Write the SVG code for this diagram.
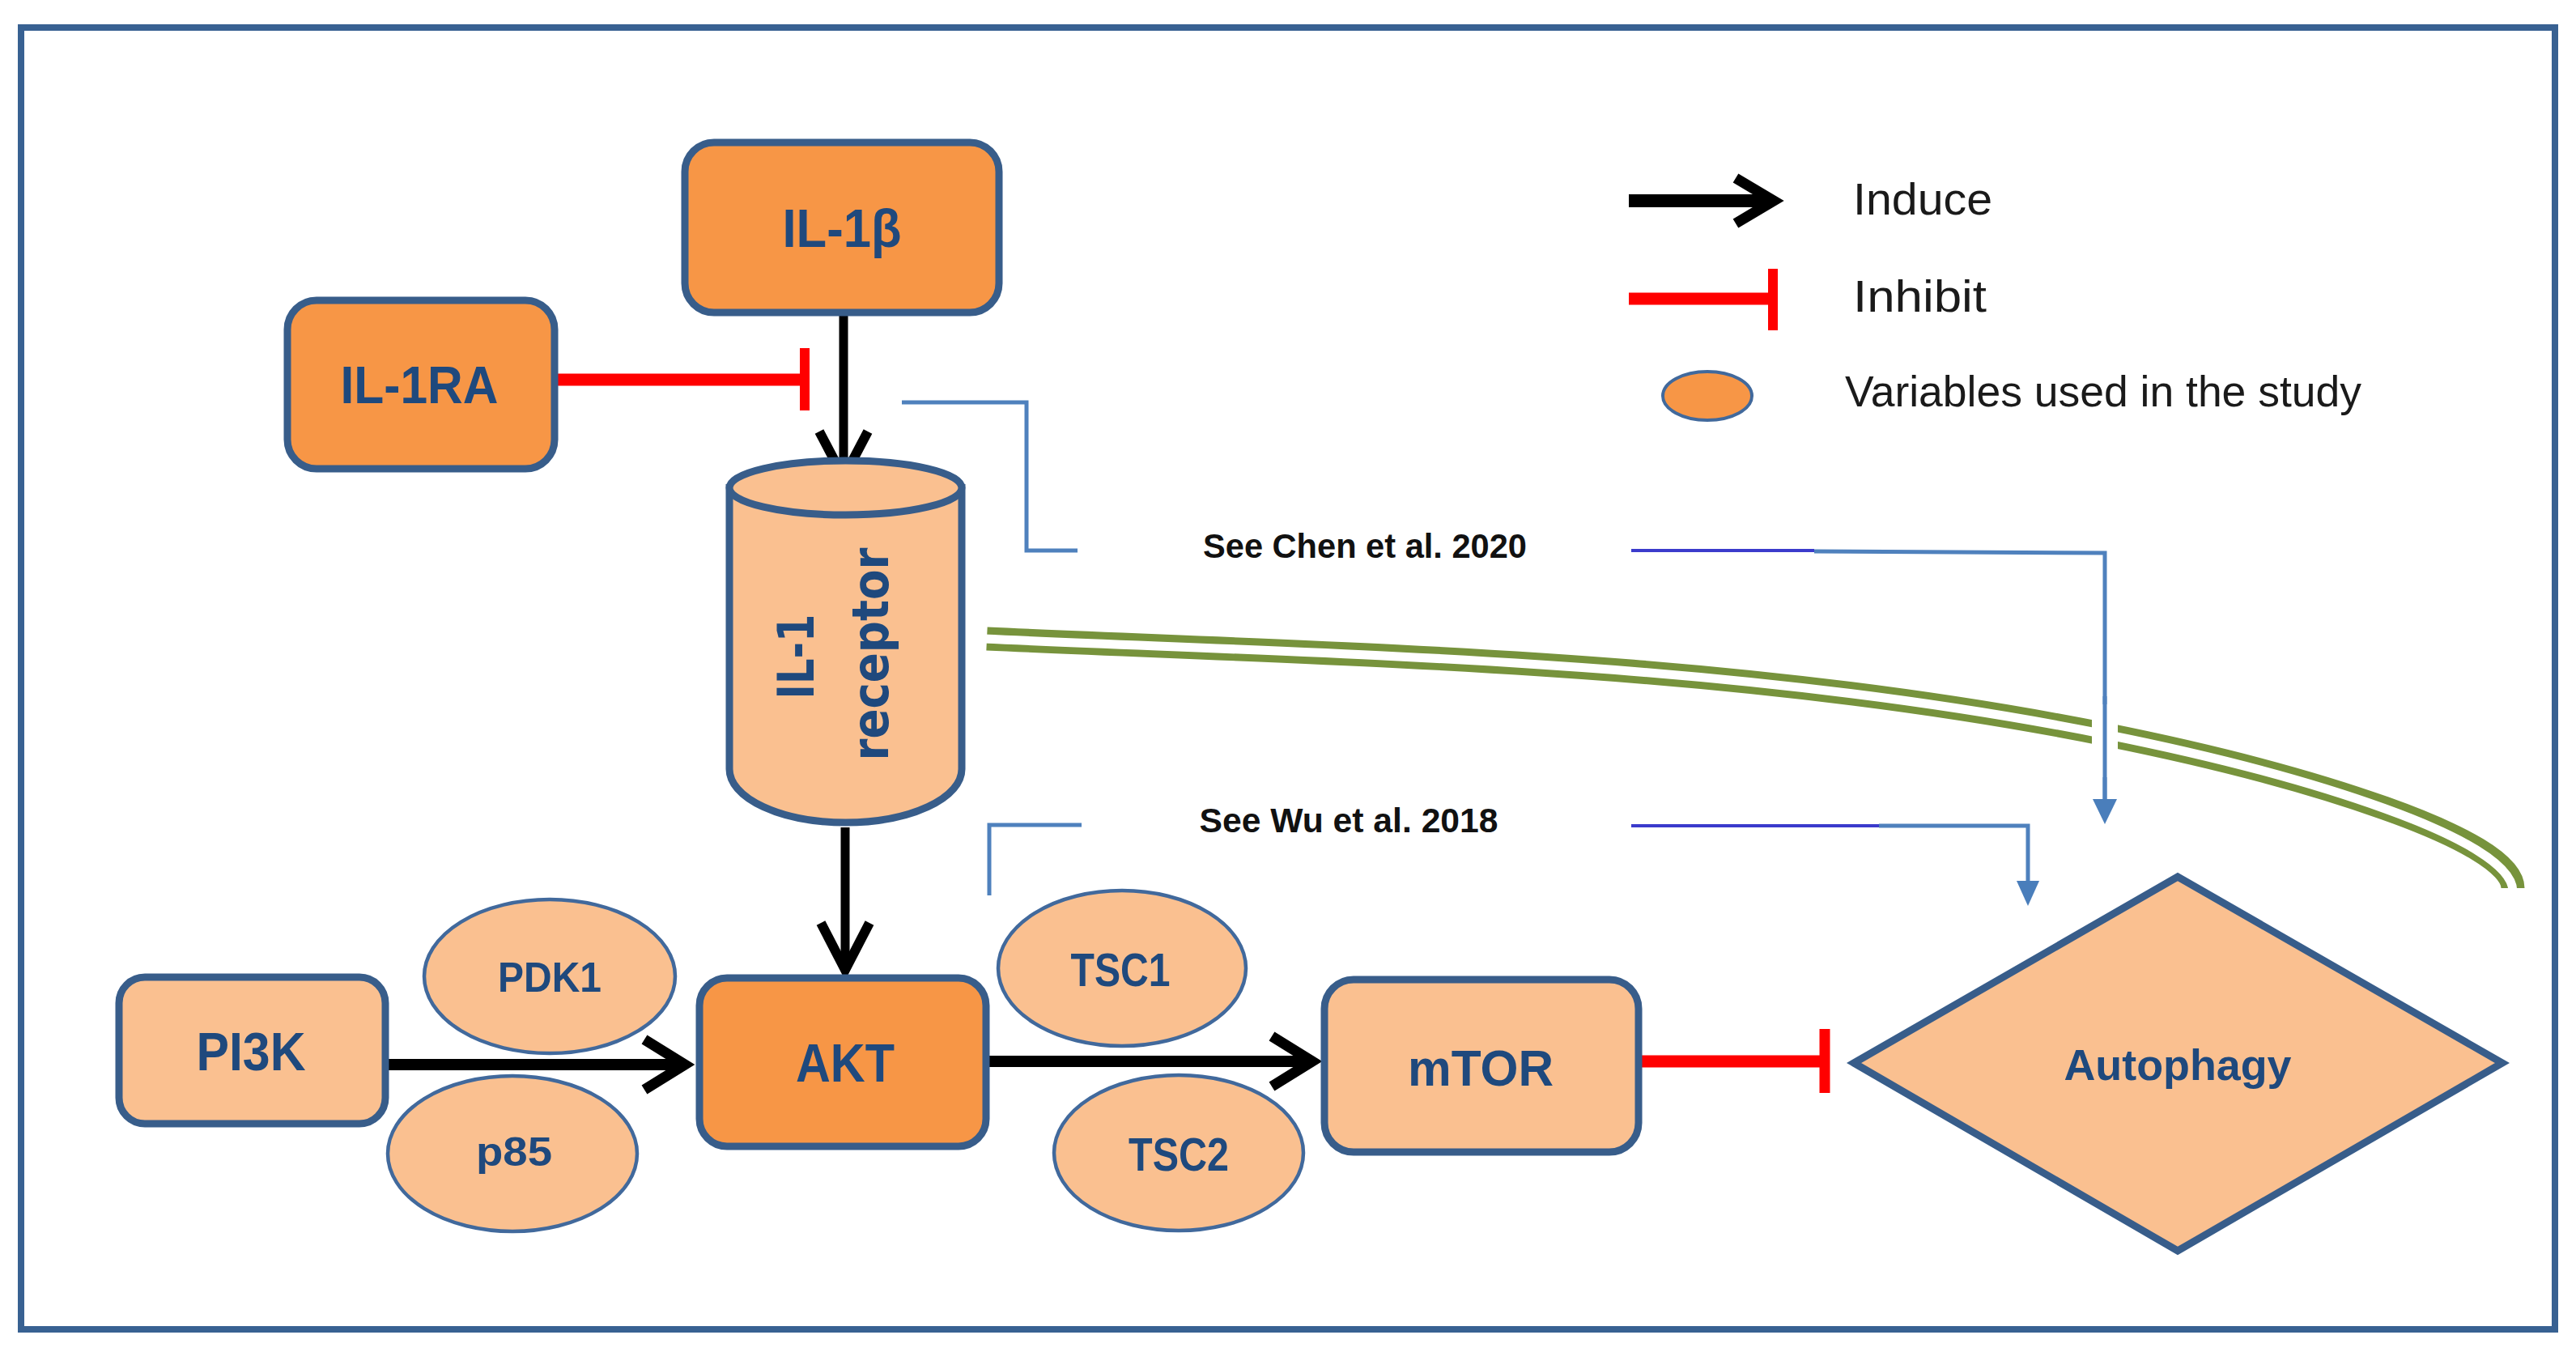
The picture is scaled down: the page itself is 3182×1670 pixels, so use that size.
<svg xmlns="http://www.w3.org/2000/svg" width="3182" height="1670" viewBox="0 0 3182 1670">
<style>
.box{stroke:#385d8a;stroke-width:9}
.dark{fill:#f79646}
.light{fill:#fac090}
.ell{fill:#fac090;stroke:#41699c;stroke-width:4.5}
.lbl{font-family:"Liberation Sans",Arial,sans-serif;font-weight:bold;fill:#1f497d;text-anchor:middle}
.cyl{font-family:"DejaVu Sans",Verdana,sans-serif;font-weight:bold;fill:#1f497d;text-anchor:middle}
.leg{font-family:"Liberation Sans",Arial,sans-serif;fill:#1a1a1a}
.cite{font-family:"Liberation Sans",Arial,sans-serif;font-weight:bold;fill:#111;text-anchor:middle}
.ind{stroke:#000;fill:none;stroke-linejoin:miter;stroke-linecap:butt}
.inh{stroke:#ff0000;fill:none}
.lb{stroke:#4f81bd;stroke-width:5;fill:none}
.db{stroke:#3b3bcc;stroke-width:4;fill:none}
</style>
<rect x="0" y="0" width="3182" height="1670" fill="#ffffff"/>
<rect x="26" y="34" width="3130" height="1608" fill="#ffffff" stroke="#386192" stroke-width="8"/>

<g id="connectors">
  <!-- green double membrane curve -->
  <path d="M1219,789 C1679,810 2140,815 2600,907 C2850,957 3104,1037 3104,1097" fill="none" stroke="#77933c" stroke-width="29"/>
  <path d="M1215,789 C1679,810 2140,815 2600,907 C2850,957 3104,1037 3104,1101" fill="none" stroke="#ffffff" stroke-width="11"/>

  <!-- IL-1beta -> IL-1 receptor -->
  <line class="ind" x1="1042" y1="388" x2="1042" y2="590" stroke-width="11"/>
  <polyline class="ind" points="1012,533 1042,590 1072,533" stroke-width="12"/>
  <!-- IL-1 receptor -> AKT -->
  <line class="ind" x1="1044" y1="1022" x2="1044" y2="1198" stroke-width="11"/>
  <polyline class="ind" points="1014,1140 1044,1198 1074,1140" stroke-width="12"/>
  <!-- PI3K -> AKT -->
  <line class="ind" x1="480" y1="1315" x2="846" y2="1315" stroke-width="14"/>
  <polyline class="ind" points="796,1284 846,1315 796,1346" stroke-width="13"/>
  <!-- AKT -> mTOR -->
  <line class="ind" x1="1222" y1="1311" x2="1621" y2="1311" stroke-width="14"/>
  <polyline class="ind" points="1571,1280 1621,1311 1571,1342" stroke-width="13"/>

  <!-- IL-1RA inhibits -->
  <line class="inh" x1="689" y1="469" x2="994" y2="469" stroke-width="15"/>
  <line class="inh" x1="994" y1="430" x2="994" y2="507" stroke-width="12"/>
  <!-- mTOR inhibits Autophagy -->
  <line class="inh" x1="2028" y1="1311" x2="2254" y2="1311" stroke-width="15"/>
  <line class="inh" x1="2254" y1="1271" x2="2254" y2="1350" stroke-width="13"/>

  <!-- See Chen et al. 2020 -->
  <polyline class="lb" points="1114,497 1268,497 1268,680 1331,680"/>
  <line class="db" x1="2015" y1="680" x2="2241" y2="680"/>
  <polyline class="lb" points="2241,681 2600,683 2600,990"/>
  <rect x="2584" y="870" width="32" height="90" fill="#ffffff"/>
  <line class="lb" x1="2600" y1="860" x2="2600" y2="990"/>
  <polygon points="2585,987 2615,987 2600,1018" fill="#4a7ebb"/>

  <!-- See Wu et al. 2018 -->
  <polyline class="lb" points="1222,1106 1222,1019 1336,1019"/>
  <line class="db" x1="2015" y1="1020" x2="2321" y2="1020"/>
  <polyline class="lb" points="2321,1020 2505,1020 2505,1090"/>
  <polygon points="2491,1088 2519,1088 2505,1119" fill="#4a7ebb"/>
</g>

<g id="IL1b">
  <rect class="box dark" x="846" y="176" width="388" height="210" rx="36"/>
  <text class="lbl" x="1040" y="305" font-size="66" textLength="147" lengthAdjust="spacingAndGlyphs">IL-1β</text>
</g>
<g id="IL1RA">
  <rect class="box dark" x="355" y="371" width="330" height="208" rx="36"/>
  <text class="lbl" x="518" y="498" font-size="64" textLength="195" lengthAdjust="spacingAndGlyphs">IL-1RA</text>
</g>
<g id="IL1R">
  <path class="box light" d="M901,602.5 L901,950 A143.5,66 0 0 0 1188,950 L1188,602.5 Z"/>
  <ellipse class="box light" cx="1044.5" cy="602.5" rx="143.5" ry="33.5"/>
  <text class="cyl" transform="translate(1005,811) rotate(-90)" x="0" y="0" font-size="62" textLength="105" lengthAdjust="spacingAndGlyphs">IL-1</text>
  <text class="cyl" transform="translate(1097,808) rotate(-90)" x="0" y="0" font-size="62" textLength="263" lengthAdjust="spacingAndGlyphs">receptor</text>
</g>
<g id="PI3K">
  <rect class="box light" x="147" y="1207" width="329" height="181" rx="32"/>
  <text class="lbl" x="310" y="1322" font-size="66" textLength="135" lengthAdjust="spacingAndGlyphs">PI3K</text>
</g>
<g id="AKT">
  <rect class="box dark" x="864" y="1208" width="354" height="208" rx="34"/>
  <text class="lbl" x="1044" y="1336" font-size="66" textLength="122" lengthAdjust="spacingAndGlyphs">AKT</text>
</g>
<g id="mTOR">
  <rect class="box light" x="1636" y="1210" width="388" height="213" rx="36"/>
  <text class="lbl" x="1829" y="1341" font-size="63" textLength="180" lengthAdjust="spacingAndGlyphs">mTOR</text>
</g>
<g id="PDK1">
  <ellipse class="ell" cx="679" cy="1206" rx="155" ry="95"/>
  <text class="lbl" x="679" y="1225" font-size="51" textLength="128" lengthAdjust="spacingAndGlyphs">PDK1</text>
</g>
<g id="p85">
  <ellipse class="ell" cx="633" cy="1425" rx="154" ry="96"/>
  <text class="lbl" x="635" y="1440" font-size="50" textLength="94" lengthAdjust="spacingAndGlyphs">p85</text>
</g>
<g id="TSC1">
  <ellipse class="ell" cx="1386" cy="1196" rx="153" ry="96"/>
  <text class="lbl" x="1384" y="1218" font-size="57" textLength="123" lengthAdjust="spacingAndGlyphs">TSC1</text>
</g>
<g id="TSC2">
  <ellipse class="ell" cx="1456" cy="1424" rx="154" ry="96"/>
  <text class="lbl" x="1456" y="1446" font-size="57" textLength="124" lengthAdjust="spacingAndGlyphs">TSC2</text>
</g>
<g id="Autophagy">
  <polygon class="box light" points="2290,1313 2690,1083 3091,1313 2690,1545"/>
  <text class="lbl" x="2690" y="1334" font-size="53" textLength="281" lengthAdjust="spacingAndGlyphs">Autophagy</text>
</g>

<g id="citations">
  <text class="cite" x="1686" y="689" font-size="42" textLength="400" lengthAdjust="spacingAndGlyphs">See Chen et al. 2020</text>
  <text class="cite" x="1666" y="1028" font-size="42" textLength="369" lengthAdjust="spacingAndGlyphs">See Wu et al. 2018</text>
</g>

<g id="legend">
  <line class="ind" x1="2012" y1="248" x2="2190" y2="248" stroke-width="16"/>
  <polyline class="ind" points="2144,220 2191,248 2144,276" stroke-width="13"/>
  <text class="leg" x="2289" y="265" font-size="56" textLength="172" lengthAdjust="spacingAndGlyphs">Induce</text>
  <line class="inh" x1="2012" y1="369" x2="2190" y2="369" stroke-width="15"/>
  <line class="inh" x1="2190" y1="332" x2="2190" y2="408" stroke-width="12"/>
  <text class="leg" x="2289" y="385" font-size="56" textLength="165" lengthAdjust="spacingAndGlyphs">Inhibit</text>
  <ellipse cx="2109" cy="489" rx="55" ry="30" fill="#f79646" stroke="#41699c" stroke-width="4"/>
  <text class="leg" x="2279" y="502" font-size="54" textLength="638" lengthAdjust="spacingAndGlyphs">Variables used in the study</text>
</g>
</svg>
